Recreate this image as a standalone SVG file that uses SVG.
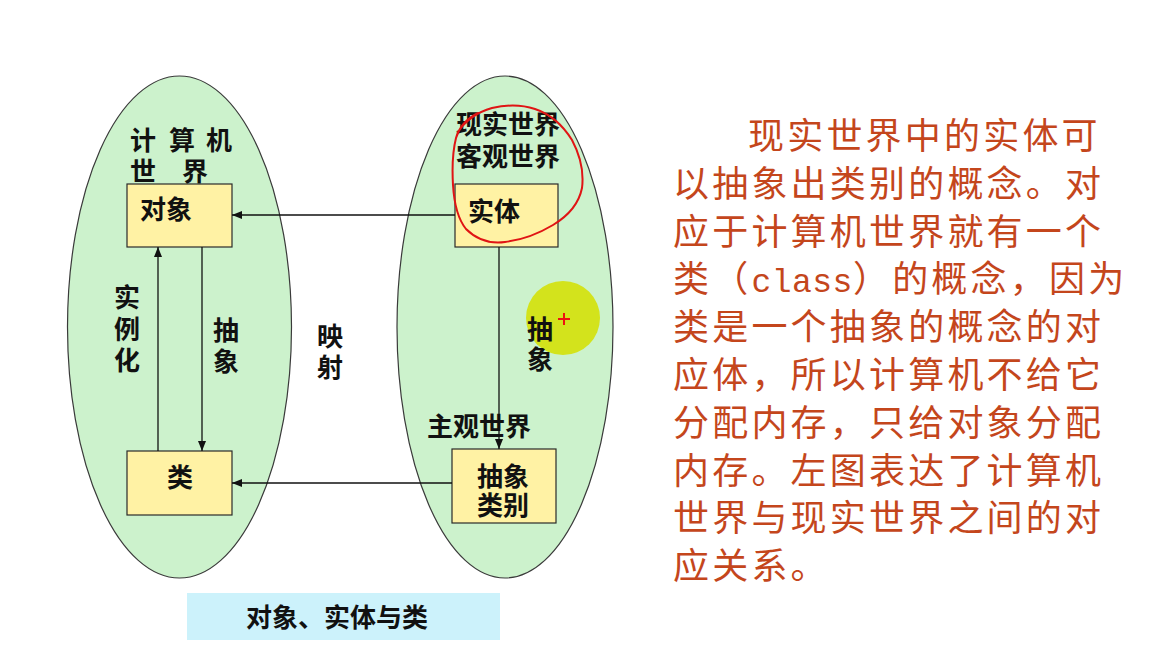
<svg xmlns="http://www.w3.org/2000/svg" width="1150" height="659" viewBox="0 0 1150 659">
<defs>
<style>
.ell{fill:#ccf2cc;stroke:#3a3a3a;stroke-width:1.2}
.box{fill:#fff2a4;stroke:#2a2a2a;stroke-width:1.2}
.lbl{font-family:"Liberation Sans","Noto Sans CJK SC",sans-serif;font-size:26px;font-weight:bold;fill:#111}
.para{font-family:"Liberation Sans","Noto Sans CJK SC",sans-serif;font-size:36px;letter-spacing:3.2px;fill:#c4461c}
.conn{stroke:#111;stroke-width:1.3;fill:none}
</style>
<marker id="arr" viewBox="0 0 10 8" refX="10" refY="4" markerWidth="10" markerHeight="8" markerUnits="userSpaceOnUse" orient="auto">
<path d="M0,0 L10,4 L0,8 Z" fill="#111"/>
</marker>
</defs>
<rect width="1150" height="659" fill="#ffffff"/>

<g id="world-computer">
<ellipse class="ell" cx="179.5" cy="327" rx="112" ry="251"/>
<text class="lbl"><tspan x="130" y="150">计</tspan><tspan x="169" y="150">算</tspan><tspan x="206" y="150">机</tspan></text>
<text class="lbl"><tspan x="130" y="181">世</tspan><tspan x="182" y="181">界</tspan></text>
</g>

<g id="world-real">
<ellipse class="ell" cx="505" cy="327" rx="108" ry="251"/>
<text class="lbl" x="456" y="134">现实世界</text>
<text class="lbl" x="456" y="166">客观世界</text>
<text class="lbl" x="427" y="436">主观世界</text>
</g>

<g id="highlight">
<circle cx="563" cy="318" r="37" fill="#d3e31c"/>
<path d="M558,319 H570 M564,313 V325" stroke="#ee1111" stroke-width="2"/>
</g>

<g id="node-object">
<rect class="box" x="127" y="184" width="105" height="63"/>
<text class="lbl" x="140" y="219">对象</text>
</g>

<g id="node-class">
<rect class="box" x="127" y="451" width="105" height="64"/>
<text class="lbl" x="167" y="487">类</text>
</g>

<g id="node-entity">
<rect class="box" x="455" y="184" width="103" height="63"/>
<text class="lbl" x="468" y="221">实体</text>
</g>

<g id="node-abstract-category">
<rect class="box" x="452" y="449" width="104" height="74"/>
<text class="lbl" x="477" y="486">抽象</text>
<text class="lbl" x="477" y="515">类别</text>
</g>

<g id="connectors">
<path class="conn" d="M455,215 H232" marker-end="url(#arr)"/>
<path class="conn" d="M452,483 H232" marker-end="url(#arr)"/>
<path class="conn" d="M202,247 V451" marker-end="url(#arr)"/>
<path class="conn" d="M158,451 V247" marker-end="url(#arr)"/>
<path class="conn" d="M499,247 V449" marker-end="url(#arr)"/>
</g>

<g id="edge-labels">
<text class="lbl"><tspan x="114" y="307">实</tspan><tspan x="114" y="339">例</tspan><tspan x="114" y="370">化</tspan></text>
<text class="lbl"><tspan x="213" y="340">抽</tspan><tspan x="213" y="371">象</tspan></text>
<text class="lbl"><tspan x="317" y="346">映</tspan><tspan x="317" y="377">射</tspan></text>
<text class="lbl"><tspan x="527" y="339">抽</tspan><tspan x="527" y="369">象</tspan></text>
</g>

<g id="annotation-loop">
<path d="M458,132 C466,120 478,112 492,108 C505,105 520,104 535,109 C550,114 562,124 572,140 C580,155 584,172 582,188 C579,203 568,216 553,225 C538,234 522,240 505,242 C490,244 476,239 466,229 C458,219 454,202 453,185 C452,168 453,150 456,138 C459,128 466,119 478,113" fill="none" stroke="#e01414" stroke-width="2" stroke-linecap="round"/>
</g>

<g id="caption">
<rect x="187" y="593" width="313" height="47" fill="#ccf2fb"/>
<text class="lbl" x="246" y="627">对象、实体与类</text>
</g>

<g id="description">
<text class="para">
<tspan x="748" y="149">现实世界中的实体可</tspan>
<tspan x="673" y="196.8">以抽象出类别的概念。对</tspan>
<tspan x="673" y="244.6">应于计算机世界就有一个</tspan>
<tspan x="673" y="292.4">类（<tspan style="font-family:'Liberation Mono',monospace;font-size:33px;letter-spacing:0.5px">class</tspan>）的概念，因为</tspan>
<tspan x="673" y="340.2">类是一个抽象的概念的对</tspan>
<tspan x="673" y="388">应体，所以计算机不给它</tspan>
<tspan x="673" y="435.8">分配内存，只给对象分配</tspan>
<tspan x="673" y="483.6">内存。左图表达了计算机</tspan>
<tspan x="673" y="531.4">世界与现实世界之间的对</tspan>
<tspan x="673" y="579.2">应关系。</tspan>
</text>
</g>
</svg>
